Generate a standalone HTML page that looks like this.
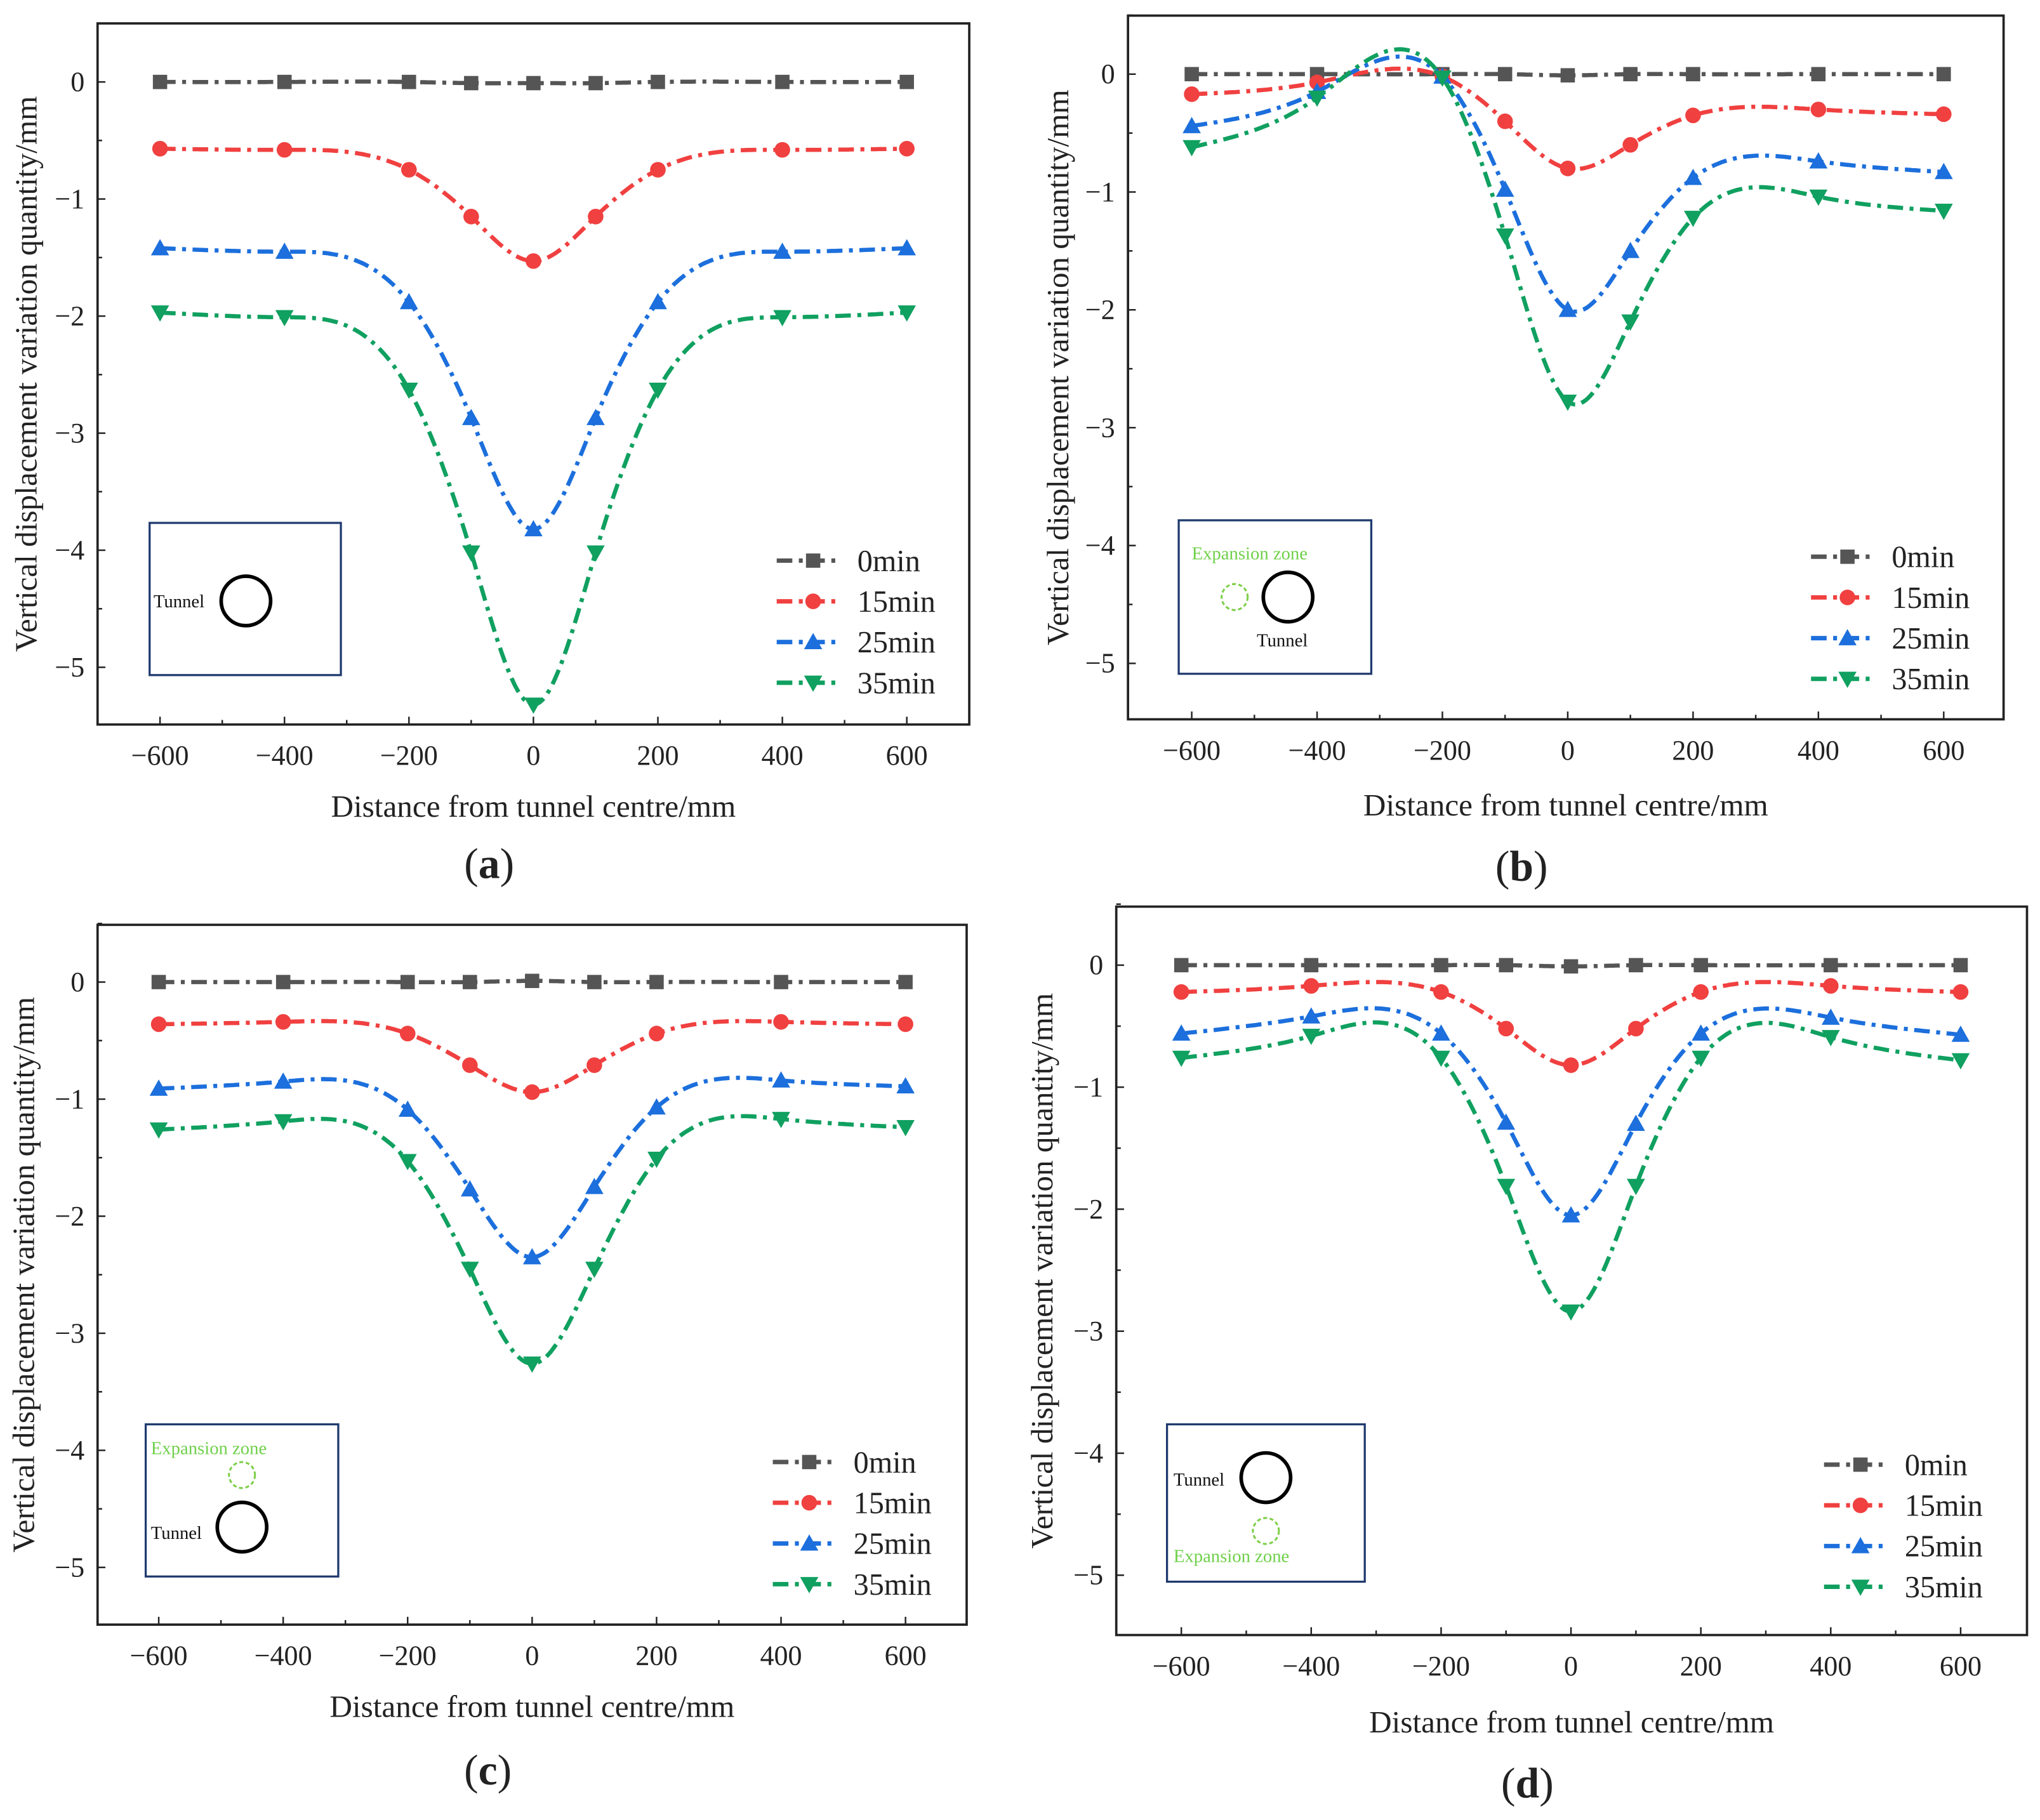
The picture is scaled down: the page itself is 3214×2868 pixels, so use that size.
<!DOCTYPE html>
<html><head><meta charset="utf-8"><style>
html,body{margin:0;padding:0;background:#fff}
svg{display:block}
text{font-family:"Liberation Serif",serif;fill:#222}
</style></head><body>
<svg id="fig" width="3214" height="2868" viewBox="0 0 1568 1399.2" preserveAspectRatio="none" xmlns="http://www.w3.org/2000/svg"></svg>
<script>
const xValues = [-600,-400,-200,-100,0,100,200,400,600];
const seriesNames = ["0min","15min","25min","35min"];
const xTicks = [-600,-400,-200,0,200,400,600];
const yTicks = [0,-1,-2,-3,-4,-5];
const panelA0 = [0,0,0,-0.01,-0.01,-0.01,0,0,0];
const panelA15 = [-0.57,-0.58,-0.75,-1.15,-1.53,-1.15,-0.75,-0.58,-0.57];
const panelA25 = [-1.42,-1.45,-1.88,-2.87,-3.82,-2.87,-1.88,-1.45,-1.42];
const panelA35 = [-1.97,-2.01,-2.63,-4.02,-5.32,-4.02,-2.63,-2.01,-1.97];
const panelB0 = [0,0,0,0,-0.01,0,0,0,0];
const panelB15 = [-0.17,-0.07,-0.02,-0.4,-0.8,-0.6,-0.35,-0.3,-0.34];
const panelB25 = [-0.44,-0.15,-0.02,-0.98,-2.0,-1.5,-0.88,-0.74,-0.83];
const panelB35 = [-0.62,-0.2,-0.03,-1.37,-2.78,-2.1,-1.22,-1.04,-1.16];
const panelC0 = [0,0,0,0,0.01,0,0,0,0];
const panelC15 = [-0.36,-0.34,-0.44,-0.71,-0.94,-0.71,-0.44,-0.34,-0.36];
const panelC25 = [-0.91,-0.85,-1.09,-1.77,-2.35,-1.75,-1.07,-0.84,-0.89];
const panelC35 = [-1.26,-1.19,-1.53,-2.45,-3.26,-2.45,-1.51,-1.17,-1.24];
const panelD0 = [0,0,0,0,-0.01,0,0,0,0];
const panelD15 = [-0.22,-0.17,-0.22,-0.52,-0.82,-0.52,-0.22,-0.17,-0.22];
const panelD25 = [-0.56,-0.42,-0.56,-1.29,-2.05,-1.3,-0.56,-0.43,-0.57];
const panelD35 = [-0.76,-0.58,-0.76,-1.81,-2.84,-1.81,-0.76,-0.59,-0.78];

const NS="http://www.w3.org/2000/svg";
const svg=document.getElementById('fig');
const colors=["#555555","#f04040","#1c6fdc","#10a060"];
function mk(tag,attrs,parent,txt){const e=document.createElementNS(NS,tag);for(const k in attrs)e.setAttribute(k,attrs[k]);if(txt!==undefined)e.textContent=txt;(parent||svg).appendChild(e);return e;}
function spline(xs,ys){const n=xs.length,h=[],a=[],l=[1],mu=[0],z=[0],c=new Array(n).fill(0),b=[],d=[];
for(let i=0;i<n-1;i++)h[i]=xs[i+1]-xs[i];
for(let i=1;i<n-1;i++)a[i]=3/h[i]*(ys[i+1]-ys[i])-3/h[i-1]*(ys[i]-ys[i-1]);
for(let i=1;i<n-1;i++){l[i]=2*(xs[i+1]-xs[i-1])-h[i-1]*mu[i-1];mu[i]=h[i]/l[i];z[i]=(a[i]-h[i-1]*z[i-1])/l[i];}
for(let j=n-2;j>=0;j--){c[j]=(j>0?z[j]:0)-mu[j]*c[j+1];b[j]=(ys[j+1]-ys[j])/h[j]-h[j]*(c[j+1]+2*c[j])/3;d[j]=(c[j+1]-c[j])/(3*h[j]);}
return t=>{let j=0;while(j<n-2&&t>xs[j+1])j++;const dx=t-xs[j];return ys[j]+b[j]*dx+c[j]*dx*dx+d[j]*dx*dx*dx;};}
function marker(g,k,x,y,col){
 if(k===0)mk('rect',{x:x-5.5,y:y-5.5,width:11,height:11,fill:col},g);
 else if(k===1)mk('circle',{cx:x,cy:y,r:6,fill:col},g);
 else if(k===2)mk('polygon',{points:`${x},${y-7} ${x-7},${y+5.5} ${x+7},${y+5.5}`,fill:col},g);
 else mk('polygon',{points:`${x},${y+7} ${x-7},${y-5.5} ${x+7},${y-5.5}`,fill:col},g);}
function panel(P){
 const g=mk('g',{},svg);
 
 
 const sx=v=>P.x0+(v+600)*(P.x600-P.x0)/1200;
 const sy=v=>P.y0-v*(P.y5-P.y0)/5;
 const fr=mk('rect',{x:P.L,y:P.T,width:P.R-P.L,height:P.B-P.T,fill:'none',stroke:'#222','stroke-width':1.8},g);
 
 for(let v=-700;v<=700;v+=100){if(v===-700||v===700)continue;const major=v%200===0;mk('line',{x1:sx(v),x2:sx(v),y1:P.B,y2:P.B-(major?6:3.5),stroke:'#222','stroke-width':1.2},g);}
 xTicks.forEach(v=>{const t=mk('text',{x:sx(v),y:P.B+31,'text-anchor':'middle','font-size':21.5},g,v<0?'\u2212'+(-v):String(v));});
 yTicks.forEach(v=>{mk('line',{x1:P.L,x2:P.L+6,y1:sy(v),y2:sy(v),stroke:'#222','stroke-width':1.2},g);
  const t=mk('text',{x:P.L-10,y:sy(v)+7,'text-anchor':'end','font-size':21.5},g,v<0?'\u2212'+(-v):String(v));});
 for(let v=0.5;v>-5.5;v-=1){mk('line',{x1:P.L,x2:P.L+3.5,y1:sy(v),y2:sy(v),stroke:'#222','stroke-width':1.2},g);}
 const xt=mk('text',{x:(P.L+P.R)/2,y:P.xty,'text-anchor':'middle','font-size':24},g,'Distance from tunnel centre/mm');
 
 const cy=(P.T+P.B)/2;
 const yt=mk('text',{x:0,y:0,'text-anchor':'middle','font-size':24,transform:`translate(${P.ytx},${cy}) rotate(-90)`},g,'Vertical displacement variation quantity/mm');
 
 const pl=mk('text',{x:(P.L+P.R)/2-34,y:P.ply,'text-anchor':'middle','font-size':33},g);
 
 mk('tspan',{},pl,'(');mk('tspan',{'font-weight':'bold'},pl,P.id);mk('tspan',{},pl,')');
 P.series.forEach((ys,k)=>{
  const f=spline(xValues,ys);let d='';
  for(let t=-600;t<=600;t+=5)d+=(t===-600?'M':'L')+sx(t).toFixed(1)+','+sy(f(t)).toFixed(1);
  const p=mk('path',{d:d,fill:'none',stroke:colors[k],'stroke-width':3.2,'stroke-dasharray':'12,5,3,5'},g);
  
  ys.forEach((v,i)=>marker(g,k,sx(xValues[i]),sy(v),colors[k]));
  const ly=P.legY+k*31.3;
  const le=mk('g',{},g);
  mk('line',{x1:P.legX,x2:P.legX+46,y1:ly,y2:ly,stroke:colors[k],'stroke-width':3.4,'stroke-dasharray':'12,5,3,5'},le);
  marker(le,k,P.legX+28,ly,colors[k]);
  mk('text',{x:P.legX+62,y:ly+8,'font-size':23.5},le,seriesNames[k]);
 });
 const ib=mk('g',{},g);
 mk('rect',{x:P.box[0],y:P.box[1],width:P.box[2]-P.box[0],height:P.box[3]-P.box[1],fill:'#fff',stroke:'#1f3a6e','stroke-width':1.6},ib);
 P.inset.forEach(it=>{
  if(it.t==='c')mk('circle',{cx:it.x,cy:it.y,r:19,fill:'none',stroke:'#000','stroke-width':2.8},ib);
  else if(it.t==='e')mk('circle',{cx:it.x,cy:it.y,r:10,fill:'none',stroke:'#7ecf4a','stroke-width':1.5,'stroke-dasharray':'3,2'},ib);
  else mk('text',{x:it.x,y:it.y,'font-size':14,style:'fill:'+(it.g?'#6fd04a':'#111')},ib,it.s);
 });
}
panel({id:'a',L:75,R:745,T:18,B:557,x0:123,x600:697,y0:63,y5:513,xty:628,ytx:28,ply:675,legX:597,legY:431,
 series:[panelA0,panelA15,panelA25,panelA35],box:[115,402,262,519],
 inset:[{t:'s',x:118,y:467,s:'Tunnel'},{t:'c',x:189,y:462}]});
panel({id:'b',L:867,R:1540,T:12,B:553,x0:916,x600:1494,y0:57,y5:510,xty:627,ytx:821,ply:677,legX:1392,legY:428,
 series:[panelB0,panelB15,panelB25,panelB35],box:[906,400,1054,518],
 inset:[{t:'s',x:916,y:430,s:'Expansion zone',g:1},{t:'e',x:949,y:459},{t:'c',x:990,y:459},{t:'s',x:966,y:497,s:'Tunnel'}]});
panel({id:'c',L:75,R:743,T:711,B:1249,x0:122,x600:696,y0:755,y5:1205,xty:1320,ytx:26,ply:1372,legX:594,legY:1124,
 series:[panelC0,panelC15,panelC25,panelC35],box:[112,1095,260,1212],
 inset:[{t:'s',x:116,y:1118,s:'Expansion zone',g:1},{t:'e',x:186,y:1134},{t:'s',x:116,y:1183,s:'Tunnel'},{t:'c',x:186,y:1174}]});
panel({id:'d',L:858,R:1558,T:697,B:1257,x0:908,x600:1507,y0:742,y5:1211,xty:1332,ytx:809,ply:1382,legX:1402,legY:1126,
 series:[panelD0,panelD15,panelD25,panelD35],box:[897,1095,1049,1216],
 inset:[{t:'s',x:902,y:1142,s:'Tunnel'},{t:'c',x:973,y:1136},{t:'e',x:973,y:1177},{t:'s',x:902,y:1201,s:'Expansion zone',g:1}]});
</script>
</body></html>
